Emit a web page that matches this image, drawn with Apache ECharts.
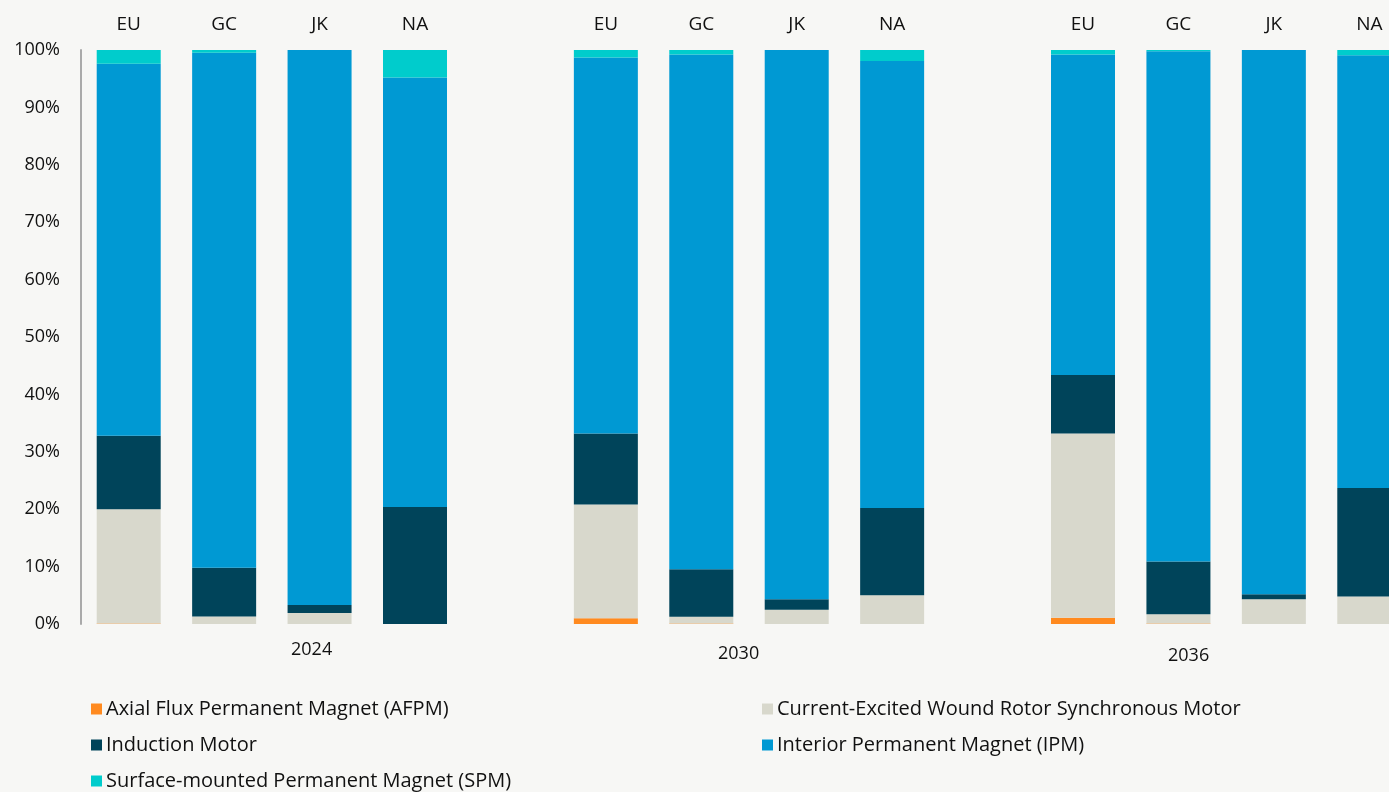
<!DOCTYPE html>
<html>
<head>
<meta charset="utf-8">
<script src="https://cdn.jsdelivr.net/npm/echarts@6/dist/echarts.min.js"></script>
<style>
  html, body { margin: 0; padding: 0; background: #f7f7f5; }
  #chart { width: 1389px; height: 792px; }
</style>
</head>
<body>
<div id="chart"></div>
<script>
// regions per year, years as groups
const regions = ['EU', 'GC', 'JK', 'NA']
const years = ['2024', '2030', '2036']

// shares in %, order: 2024 EU..NA, 2030 EU..NA, 2036 EU..NA
const afpm      = [0.1, 0, 0, 0,        1.0, 0.1, 0, 0,        1.1, 0.1, 0, 0]
const cewrsm    = [19.9, 1.3, 1.9, 0,   19.8, 1.15, 2.5, 5.0,  32.1, 1.6, 4.3, 4.8]
const induction = [12.8, 8.5, 1.4, 20.4, 12.4, 8.3, 1.8, 15.2, 10.2, 9.2, 0.9, 18.9]
const ipm       = [64.8, 89.7, 96.7, 74.8, 65.5, 89.65, 95.7, 77.9, 55.8, 88.9, 94.8, 75.4]
const spm       = [2.4, 0.5, 0, 4.8,    1.3, 0.8, 0, 1.9,      0.8, 0.2, 0, 0.9]

const yTicks = [0, 10, 20, 30, 40, 50, 60, 70, 80, 90, 100]

// empty slot between year groups
function withGaps(arr) {
  const out = []
  years.forEach((y, i) => {
    if (i > 0) out.push('-')
    out.push(...arr.slice(i * 4, i * 4 + 4))
  })
  return out
}
const cats = []
years.forEach((y, i) => {
  if (i > 0) cats.push('')
  cats.push(...regions)
})

const font = '"Open Sans", Lato, sans-serif'
const chart = echarts.init(document.getElementById('chart'))

function bar(name, data, color) {
  return {
    name, type: 'bar', stack: 'total', barWidth: 64,
    data: withGaps(data),
    itemStyle: { color },
    emphasis: { disabled: true }
  }
}

const legendBase = {
  orient: 'vertical', top: 699, itemGap: 16, padding: 0,
  itemWidth: 11, itemHeight: 11, icon: 'rect', height: 93,
  textStyle: { color: '#111', fontSize: 20, lineHeight: 20, fontFamily: font, padding: [0, 0, 0, -1] }
}

chart.setOption({
  backgroundColor: '#f7f7f5',
  animation: false,
  textStyle: { fontFamily: font },
  grid: { left: 81, top: 50, width: 1336, bottom: 168, outerBoundsMode: 'none' },
  xAxis: {
    type: 'category', position: 'top', data: cats,
    axisLine: { show: false }, axisTick: { show: false },
    axisLabel: { color: '#111', fontSize: 19, margin: 16, fontFamily: font }
  },
  yAxis: {
    type: 'value', min: 0, max: 100, interval: 10,
    axisLine: { show: true, lineStyle: { color: '#aaaaaa', width: 2 } },
    axisTick: { show: false },
    splitLine: { show: false },
    axisLabel: {
      color: '#111', fontSize: 18, margin: 21, fontFamily: font,
      formatter: v => yTicks.includes(v) ? v + '%' : ''
    }
  },
  legend: [
    Object.assign({}, legendBase, {
      left: 91,
      data: ['Axial Flux Permanent Magnet (AFPM)', 'Induction Motor', 'Surface-mounted Permanent Magnet (SPM)']
    }),
    Object.assign({}, legendBase, {
      left: 762,
      data: ['Current-Excited Wound Rotor Synchronous Motor', 'Interior Permanent Magnet (IPM)']
    })
  ],
  graphic: [
    { type: 'text', left: 291, top: 641, style: { text: years[0], fontSize: 18, fontFamily: font, fill: '#111' } },
    { type: 'text', left: 718, top: 645, style: { text: years[1], fontSize: 18, fontFamily: font, fill: '#111' } },
    { type: 'text', left: 1168, top: 647, style: { text: years[2], fontSize: 18, fontFamily: font, fill: '#111' } }
  ],
  series: [
    bar('Axial Flux Permanent Magnet (AFPM)', afpm, '#ff8a1f'),
    bar('Current-Excited Wound Rotor Synchronous Motor', cewrsm, '#d8d8cc'),
    bar('Induction Motor', induction, '#00445a'),
    bar('Interior Permanent Magnet (IPM)', ipm, '#0099d3'),
    bar('Surface-mounted Permanent Magnet (SPM)', spm, '#00cccc')
  ]
})
</script>
</body>
</html>
